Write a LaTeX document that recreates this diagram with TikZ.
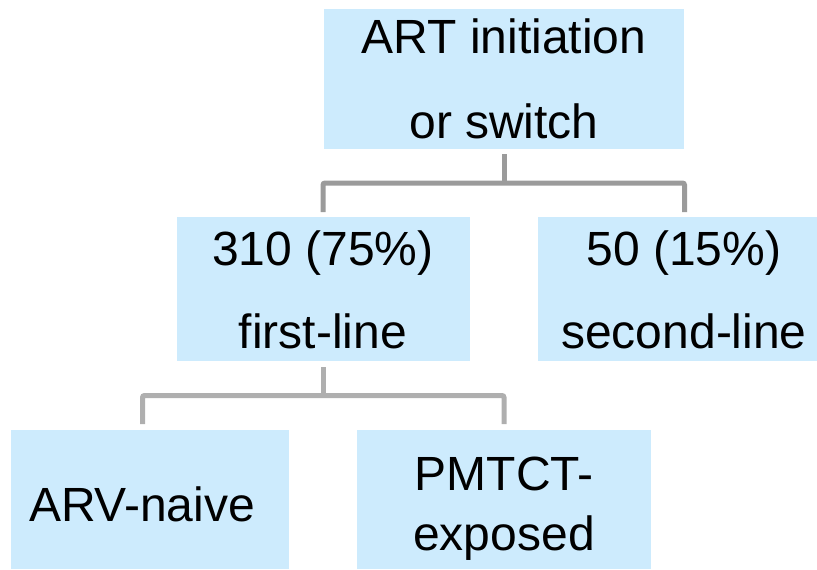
\documentclass[tikz,border=0pt]{standalone}
\usepackage{fontspec}
\setmainfont{Liberation Sans}
\definecolor{boxfill}{HTML}{CDEBFD}
\definecolor{linkA}{HTML}{9B9B9B}
\definecolor{linkB}{HTML}{AFAFAF}
\begin{document}
\begin{tikzpicture}[x=1pt,y=-1pt,
  box/.style={fill=boxfill,draw=none,inner sep=0pt},
  lbl/.style={anchor=base,inner sep=0pt,font=\fontsize{48}{57}\selectfont},
  link/.style={line width=5pt,rounded corners=2pt}]
\useasboundingbox (0,0) rectangle (817,570);
\begin{scope}
\clip (0,0) rectangle (817,570);
% boxes
\node[box,minimum width=360pt,minimum height=140pt] (top) at (504,79) {};
\node[box,minimum width=293pt,minimum height=144pt] (first) at (323,289) {};
\node[box,minimum width=292pt,minimum height=144pt] (second) at (684,289) {};
\node[box,minimum width=278pt,minimum height=139pt] (naive) at (150,499) {};
\node[box,minimum width=294pt,minimum height=139pt] (pmtct) at (504,499) {};
\end{scope}
% labels
\node[lbl] (t1) at (504,53) {ART initiation};
\node[lbl] (t2) at (504,138) {or switch};
\node[lbl] (f1) at (323,265) {310 (75\%)};
\node[lbl] (f2) at (323,348) {first-line};
\node[lbl] (s1) at (684,265) {50 (15\%)};
\node[lbl] (s2) at (684,348) {second-line};
\node[lbl] (n1) at (142,521) {ARV-naive};
\node[lbl] (p1) at (504,490) {PMTCT-};
\node[lbl] (p2) at (504,550) {exposed};
% connectors
\coordinate (j1) at (504,183);
\coordinate (a1) at (323,212);
\coordinate (a2) at (684.5,212);
\draw[link,color=linkA] ([yshift=-5pt]top.south) -- (j1);
\draw[link,color=linkA] (a1) |- (j1) -| (a2);
\coordinate (j2) at (323,395.5);
\coordinate (b1) at (142.5,424);
\coordinate (b2) at (504,424);
\draw[link,color=linkB] ([yshift=-6pt]first.south) -- (j2);
\draw[link,color=linkB] (b1) |- (j2) -| (b2);
\end{tikzpicture}
\end{document}
